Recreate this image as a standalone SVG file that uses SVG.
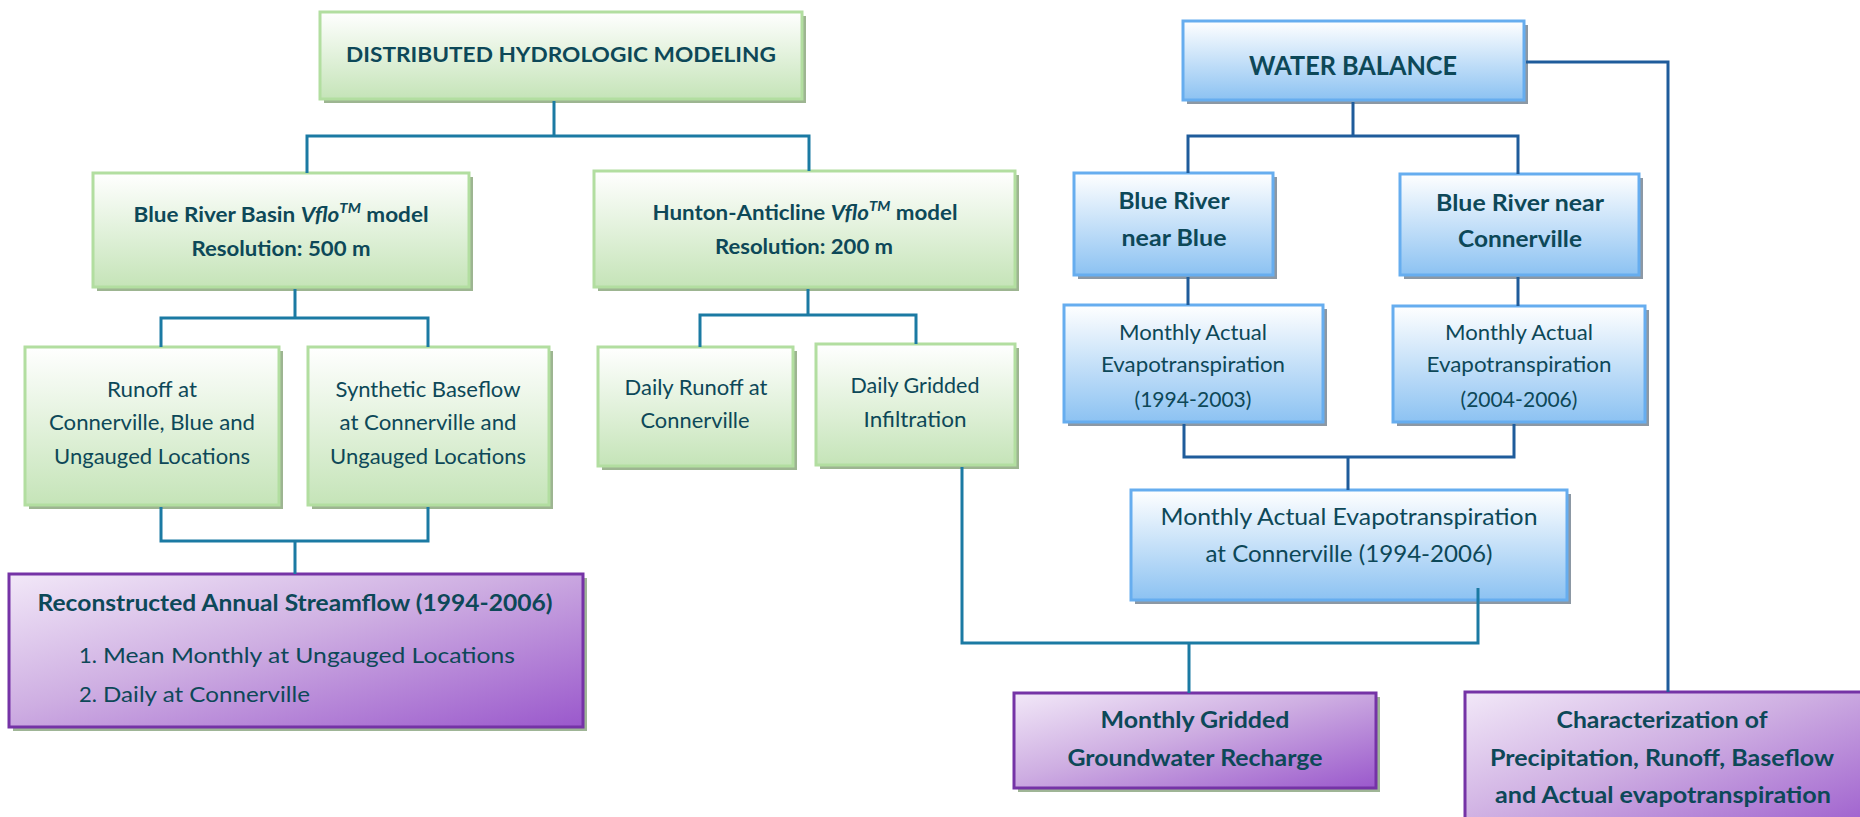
<svg xmlns="http://www.w3.org/2000/svg" width="1860" height="817" viewBox="0 0 1860 817">
<defs>
<linearGradient id="gGreen" x1="0" y1="0" x2="0" y2="1"><stop offset="0" stop-color="#ffffff"/><stop offset="1" stop-color="#c5e4b8"/></linearGradient>
<linearGradient id="gBlue" x1="0" y1="0" x2="0" y2="1"><stop offset="0" stop-color="#ffffff"/><stop offset="1" stop-color="#8cc2f2"/></linearGradient>
<linearGradient id="gPurple" x1="0" y1="0" x2="1" y2="1"><stop offset="0" stop-color="#f2e8f8"/><stop offset="0.45" stop-color="#ceaee2"/><stop offset="1" stop-color="#9a58cc"/></linearGradient>
<style>
.t{font-family:Lato,"Liberation Sans",sans-serif;fill:#0d4858;text-anchor:middle}
.b{font-weight:bold}
.s{text-anchor:start}
.green .box{fill:url(#gGreen);stroke:#b2dea0;stroke-width:3}
.green .sh{fill:#9db591}
.blue .box{fill:url(#gBlue);stroke:#66adef;stroke-width:3}
.blue .sh{fill:#8c98a4}
.purple .box{fill:url(#gPurple);stroke:#7533a6;stroke-width:3}
.purple .sh{fill:#9fb596}
.cg{fill:none;stroke:#1b7aa3;stroke-width:3}
.cb{fill:none;stroke:#1f5c9b;stroke-width:3}
</style>
</defs>
<rect width="1860" height="817" fill="#ffffff"/>

<g id="n_dhm" class="green">
<rect class="sh" x="324" y="16" width="482" height="87"/>
<rect class="box" x="320" y="12" width="482" height="87"/>
<text class="t b" x="561" y="62" font-size="21" textLength="430" lengthAdjust="spacingAndGlyphs">DISTRIBUTED HYDROLOGIC MODELING</text>
</g>

<g id="n_brb" class="green">
<rect class="sh" x="97" y="177" width="376" height="114"/>
<rect class="box" x="93" y="173" width="376" height="114"/>
<text class="t b" x="281" y="222" font-size="21" textLength="295" lengthAdjust="spacingAndGlyphs">Blue River Basin <tspan font-style="italic">Vflo</tspan><tspan font-style="italic" font-size="14" dy="-9">TM</tspan><tspan dy="9"> model</tspan></text>
<text class="t b" x="281" y="256" font-size="21" textLength="179" lengthAdjust="spacingAndGlyphs">Resolution: 500 m</text>
</g>

<g id="n_hunton" class="green">
<rect class="sh" x="598" y="175" width="421" height="116"/>
<rect class="box" x="594" y="171" width="421" height="116"/>
<text class="t b" x="805" y="220" font-size="21" textLength="305" lengthAdjust="spacingAndGlyphs">Hunton-Anticline <tspan font-style="italic">Vflo</tspan><tspan font-style="italic" font-size="14" dy="-9">TM</tspan><tspan dy="9"> model</tspan></text>
<text class="t b" x="804" y="254" font-size="21" textLength="178" lengthAdjust="spacingAndGlyphs">Resolution: 200 m</text>
</g>

<g id="n_runoff" class="green">
<rect class="sh" x="29" y="351" width="254" height="158"/>
<rect class="box" x="25" y="347" width="254" height="158"/>
<text class="t" x="152" y="397" font-size="21" textLength="90" lengthAdjust="spacingAndGlyphs">Runoff at</text>
<text class="t" x="152" y="430" font-size="21" textLength="206" lengthAdjust="spacingAndGlyphs">Connerville, Blue and</text>
<text class="t" x="152" y="464" font-size="21" textLength="196" lengthAdjust="spacingAndGlyphs">Ungauged Locations</text>
</g>

<g id="n_synth" class="green">
<rect class="sh" x="312" y="351" width="241" height="158"/>
<rect class="box" x="308" y="347" width="241" height="158"/>
<text class="t" x="428" y="397" font-size="21" textLength="185" lengthAdjust="spacingAndGlyphs">Synthetic Baseflow</text>
<text class="t" x="428" y="430" font-size="21" textLength="177" lengthAdjust="spacingAndGlyphs">at Connerville and</text>
<text class="t" x="428" y="464" font-size="21" textLength="196" lengthAdjust="spacingAndGlyphs">Ungauged Locations</text>
</g>

<g id="n_dailyrunoff" class="green">
<rect class="sh" x="602" y="351" width="195" height="119"/>
<rect class="box" x="598" y="347" width="195" height="119"/>
<text class="t" x="696" y="395" font-size="22" textLength="143" lengthAdjust="spacingAndGlyphs">Daily Runoff at</text>
<text class="t" x="695" y="428" font-size="22" textLength="109" lengthAdjust="spacingAndGlyphs">Connerville</text>
</g>

<g id="n_dailygrid" class="green">
<rect class="sh" x="820" y="348" width="199" height="121"/>
<rect class="box" x="816" y="344" width="199" height="121"/>
<text class="t" x="915" y="393" font-size="22" textLength="129" lengthAdjust="spacingAndGlyphs">Daily Gridded</text>
<text class="t" x="915" y="427" font-size="22" textLength="103" lengthAdjust="spacingAndGlyphs">Infiltration</text>
</g>

<g id="n_recon" class="purple">
<rect class="sh" x="13" y="578" width="574" height="153"/>
<rect class="box" x="9" y="574" width="574" height="153"/>
<text class="t b" x="295" y="611" font-size="22" textLength="515" lengthAdjust="spacingAndGlyphs">Reconstructed Annual Streamflow (1994-2006)</text>
<text class="t s" x="79" y="663" font-size="22">1.</text>
<text class="t s" x="103" y="663" font-size="22" textLength="412" lengthAdjust="spacingAndGlyphs">Mean Monthly at Ungauged Locations</text>
<text class="t s" x="79" y="702" font-size="22">2.</text>
<text class="t s" x="103" y="702" font-size="22" textLength="207" lengthAdjust="spacingAndGlyphs">Daily at Connerville</text>
</g>

<g id="n_wb" class="blue">
<rect class="sh" x="1187" y="25" width="341" height="79"/>
<rect class="box" x="1183" y="21" width="341" height="79"/>
<text class="t b" x="1353" y="75" font-size="27" textLength="208" lengthAdjust="spacingAndGlyphs">WATER BALANCE</text>
</g>

<g id="n_brnb" class="blue">
<rect class="sh" x="1078" y="177" width="199" height="102"/>
<rect class="box" x="1074" y="173" width="199" height="102"/>
<text class="t b" x="1174" y="209" font-size="22" textLength="111" lengthAdjust="spacingAndGlyphs">Blue River</text>
<text class="t b" x="1174" y="246" font-size="22" textLength="105" lengthAdjust="spacingAndGlyphs">near Blue</text>
</g>

<g id="n_brnc" class="blue">
<rect class="sh" x="1404" y="178" width="239" height="101"/>
<rect class="box" x="1400" y="174" width="239" height="101"/>
<text class="t b" x="1520" y="211" font-size="22" textLength="168" lengthAdjust="spacingAndGlyphs">Blue River near</text>
<text class="t b" x="1520" y="247" font-size="22" textLength="124" lengthAdjust="spacingAndGlyphs">Connerville</text>
</g>

<g id="n_et1" class="blue">
<rect class="sh" x="1068" y="309" width="259" height="117"/>
<rect class="box" x="1064" y="305" width="259" height="117"/>
<text class="t" x="1193" y="340" font-size="22" textLength="148" lengthAdjust="spacingAndGlyphs">Monthly Actual</text>
<text class="t" x="1193" y="372" font-size="22" textLength="184" lengthAdjust="spacingAndGlyphs">Evapotranspiration</text>
<text class="t" x="1193" y="407" font-size="22" textLength="117" lengthAdjust="spacingAndGlyphs">(1994-2003)</text>
</g>

<g id="n_et2" class="blue">
<rect class="sh" x="1397" y="310" width="252" height="116"/>
<rect class="box" x="1393" y="306" width="252" height="116"/>
<text class="t" x="1519" y="340" font-size="22" textLength="148" lengthAdjust="spacingAndGlyphs">Monthly Actual</text>
<text class="t" x="1519" y="372" font-size="22" textLength="185" lengthAdjust="spacingAndGlyphs">Evapotranspiration</text>
<text class="t" x="1519" y="407" font-size="22" textLength="117" lengthAdjust="spacingAndGlyphs">(2004-2006)</text>
</g>

<g id="n_etc" class="blue">
<rect class="sh" x="1135" y="494" width="436" height="110"/>
<rect class="box" x="1131" y="490" width="436" height="110"/>
<text class="t" x="1349" y="525" font-size="23" textLength="377" lengthAdjust="spacingAndGlyphs">Monthly Actual Evapotranspiration</text>
<text class="t" x="1349" y="562" font-size="23" textLength="287" lengthAdjust="spacingAndGlyphs">at Connerville (1994-2006)</text>
</g>

<g id="n_gwr" class="purple">
<rect class="sh" x="1018" y="697" width="362" height="95"/>
<rect class="box" x="1014" y="693" width="362" height="95"/>
<text class="t b" x="1195" y="728" font-size="22" textLength="189" lengthAdjust="spacingAndGlyphs">Monthly Gridded</text>
<text class="t b" x="1195" y="766" font-size="22" textLength="255" lengthAdjust="spacingAndGlyphs">Groundwater Recharge</text>
</g>

<g id="n_char" class="purple">
<rect class="box" x="1465" y="692" width="400" height="150"/>
<text class="t b" x="1662" y="728" font-size="22" textLength="211" lengthAdjust="spacingAndGlyphs">Characterization of</text>
<text class="t b" x="1662" y="766" font-size="22" textLength="344" lengthAdjust="spacingAndGlyphs">Precipitation, Runoff, Baseflow</text>
<text class="t b" x="1663" y="803" font-size="22" textLength="336" lengthAdjust="spacingAndGlyphs">and Actual evapotranspiration</text>
</g>

<g id="connectors">
<path class="cg" d="M554,101 V136 M307,173 V136 H809 V171"/>
<path class="cg" d="M295,289 V318 M161,347 V318 H428 V347"/>
<path class="cg" d="M161,507 V541 H428 V507 M295,541 V574"/>
<path class="cg" d="M808,289 V315 M700,347 V315 H916 V344"/>
<path class="cg" d="M962,467 V643 H1478 V588 M1189,643 V693"/>
<path class="cb" d="M1353,102 V136 M1188,173 V136 H1518 V174"/>
<path class="cb" d="M1526,62 H1668 V692"/>
<path class="cb" d="M1188,277 V305 M1518,277 V306"/>
<path class="cb" d="M1184,424 V457 H1514 V424 M1348,457 V490"/>
</g>
</svg>
